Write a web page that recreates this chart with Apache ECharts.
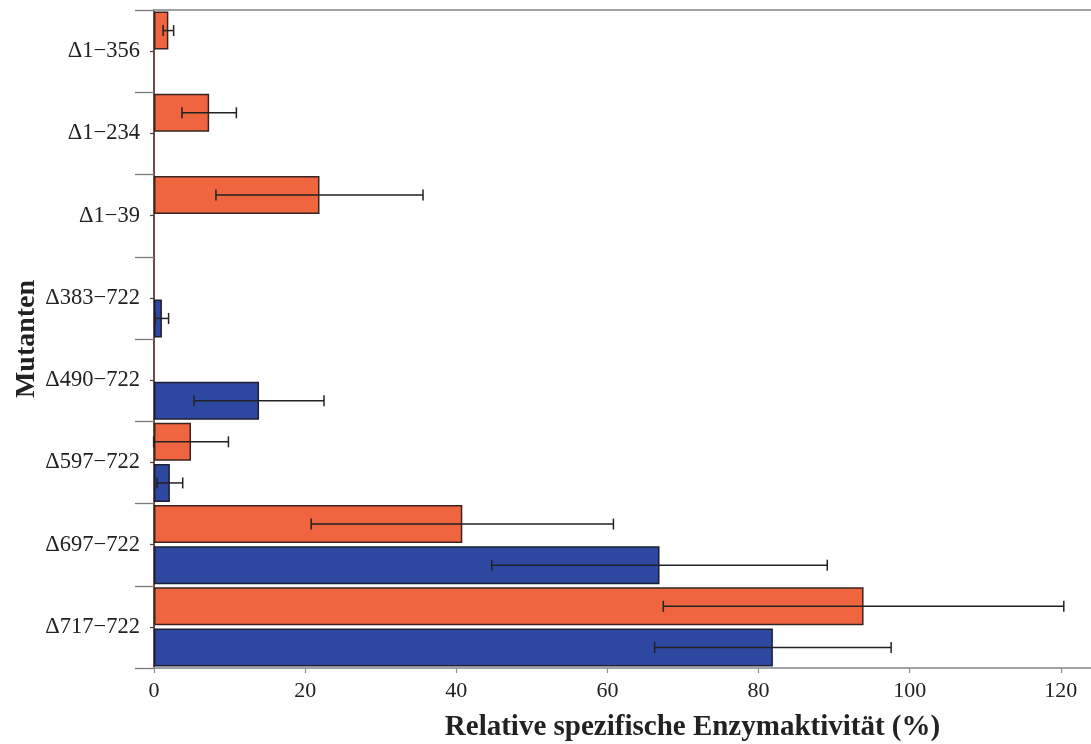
<!DOCTYPE html>
<html>
<head>
<meta charset="utf-8">
<script src="https://cdn.jsdelivr.net/npm/echarts@6/dist/echarts.min.js"></script>
<style>
html,body{margin:0;padding:0;background:#fff;}
#chart{width:1091px;height:744px;}
</style>
</head>
<body>
<div id="chart"></div>
<script>
// Categories from bottom to top
var categories = ['Δ717−722', 'Δ697−722', 'Δ597−722', 'Δ490−722', 'Δ383−722', 'Δ1−39', 'Δ1−234', 'Δ1−356'];
var blueValues   = [81.9, 66.9, 2.1, 13.9, 1.05, null, null, null];
var blueErrors   = [15.65, 22.2, 1.7, 8.6, 0.88, null, null, null];
var orangeValues = [93.9, 40.8, 4.9, null, null, 21.9, 7.3, 1.9];
var orangeErrors = [26.5, 20.0, 4.95, null, null, 13.7, 3.6, 0.7];
var xTicks = [0, 20, 40, 60, 80, 100, 120];

function errData(vals, errs) {
  var out = [];
  for (var i = 0; i < vals.length; i++) {
    if (vals[i] != null && errs[i] != null) {
      out.push([i, vals[i] - errs[i], vals[i] + errs[i]]);
    }
  }
  return out;
}

function makeErr(frac) {
  return function (params, api) {
    var cat = api.value(0), lo = api.value(1), hi = api.value(2);
    var band = api.size([0, 1])[1];
    var p1 = api.coord([lo, cat]);
    var p2 = api.coord([hi, cat]);
    var y = p1[1] + frac * band;
    var h = 5.5;
    var st = { stroke: '#222', lineWidth: 1.5 };
    return {
      type: 'group',
      children: [
        { type: 'line', shape: { x1: p1[0], y1: y, x2: p2[0], y2: y }, style: st },
        { type: 'line', shape: { x1: p1[0], y1: y - h, x2: p1[0], y2: y + h }, style: st },
        { type: 'line', shape: { x1: p2[0], y1: y - h, x2: p2[0], y2: y + h }, style: st }
      ]
    };
  };
}

var FONT = 'Liberation Serif';
var chart = echarts.init(document.getElementById('chart'), null, { renderer: 'canvas' });
chart.setOption({
  backgroundColor: '#fff',
  animation: false,
  grid: { left: 154, right: 0, top: 10, bottom: 76, outerBoundsMode: 'none', containLabel: false },
  xAxis: [{
    type: 'value', min: 0, max: 124, position: 'bottom',
    axisLine: { show: true, lineStyle: { color: '#9ea2a7', width: 2 } },
    axisTick: { show: true, length: 5, lineStyle: { color: '#8a8e93', width: 1.2 }, customValues: xTicks },
    axisLabel: { fontFamily: FONT, fontSize: 22, color: '#222', margin: 12, customValues: xTicks },
    splitLine: { show: false },
    name: 'Relative spezifische Enzymaktivität (%)',
    nameLocation: 'middle', nameGap: 45, nameMoveOverlap: false,
    nameTextStyle: { fontFamily: FONT, fontSize: 29, fontWeight: 'bold', color: '#222', padding: [0, 0, 0, 140] }
  }, {
    type: 'value', min: 0, max: 124, position: 'top',
    axisLine: { show: true, lineStyle: { color: '#9ea2a7', width: 2 } },
    axisTick: { show: false }, axisLabel: { show: false }, splitLine: { show: false }
  }],
  yAxis: [{
    type: 'category', data: categories, position: 'left', offset: 6,
    axisLine: { show: false },
    axisTick: { show: true, length: 19, lineStyle: { color: '#7a7a7a', width: 1.3 } },
    axisLabel: { fontFamily: FONT, fontSize: 22.5, color: '#222', margin: 8 },
    name: 'Mutanten', nameLocation: 'middle', nameGap: 107, nameRotate: 90, nameMoveOverlap: false,
    nameTextStyle: { fontFamily: FONT, fontSize: 28, fontWeight: 'bold', color: '#222' }
  }, {
    type: 'category', data: categories, position: 'left', offset: 0,
    axisLine: { show: true, lineStyle: { color: '#6e4d48', width: 2 } },
    axisTick: { show: true, alignWithLabel: true, length: 4, lineStyle: { color: '#444', width: 1.2 } },
    axisLabel: { show: false }
  }],
  series: [{
    name: 'orange', type: 'bar', data: orangeValues, xAxisIndex: 0, yAxisIndex: 0,
    barWidth: 38, barGap: '8%',
    itemStyle: { color: '#EE6540', borderColor: '#3a2420', borderWidth: 1.5 }
  }, {
    name: 'blue', type: 'bar', data: blueValues, xAxisIndex: 0, yAxisIndex: 0,
    barWidth: 38, barGap: '8%',
    itemStyle: { color: '#2E47A0', borderColor: '#1e2030', borderWidth: 1.5 }
  }, {
    type: 'custom', xAxisIndex: 0, yAxisIndex: 0, renderItem: makeErr(-0.25),
    data: errData(orangeValues, orangeErrors), encode: { x: [1, 2], y: 0 }, z: 5
  }, {
    type: 'custom', xAxisIndex: 0, yAxisIndex: 0, renderItem: makeErr(0.25),
    data: errData(blueValues, blueErrors), encode: { x: [1, 2], y: 0 }, z: 5
  }]
});
</script>
</body>
</html>
